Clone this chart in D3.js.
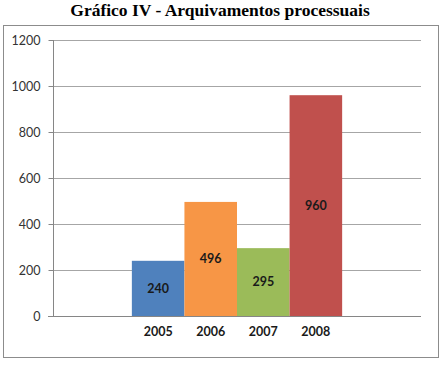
<!DOCTYPE html>
<html><head><meta charset="utf-8">
<script src="https://cdn.jsdelivr.net/npm/d3@7"></script>
<style>body{margin:0;background:#fff}</style>
</head><body>
<svg id="c" width="445" height="368"></svg>
<script>
const years = ["2005","2006","2007","2008"];
const values = [240,496,295,960];
const colors = ["#4F81BD","#F79646","#9BBB59","#C0504D"];
const yTicks = [0,200,400,600,800,1000,1200];
const title = "Gráfico IV - Arquivamentos processuais";

const svg = d3.select("#c");
const L=53,R=421,T=40,B=316;
svg.append("text").attr("x",220).attr("y",16).attr("text-anchor","middle")
  .attr("font-family","Liberation Serif, Times New Roman, serif").attr("font-weight","bold")
  .attr("font-size",17.5).attr("fill","#000").text(title);
svg.append("rect").attr("x",3.5).attr("y",25.5).attr("width",435).attr("height",332)
  .attr("fill","none").attr("stroke","#8c8c8c").attr("stroke-width",1);

const y = d3.scaleLinear().domain([0,1200]).range([B,T]);
const x = d3.scaleBand().domain(years).range([L,R]).paddingInner(0).paddingOuter(1.5);

// gridlines
svg.append("g").selectAll("line").data(yTicks.filter(d=>d>0)).join("line")
  .attr("x1",L).attr("x2",R).attr("y1",d=>Math.round(y(d))+0.5).attr("y2",d=>Math.round(y(d))+0.5)
  .attr("stroke","#a6a6a6");

// y axis
const ya = svg.append("g").attr("transform",`translate(${L+0.5},0)`)
  .call(d3.axisLeft(y).tickValues(yTicks).tickSize(5).tickPadding(8).tickFormat(d3.format("d")));
ya.select(".domain").attr("stroke","#868686").attr("d",`M-0,${T}V${B}`);
ya.selectAll(".tick line").attr("stroke","#868686");
ya.selectAll(".tick").attr("transform",d=>`translate(0,${Math.round(y(d))+0.5})`);
ya.selectAll("text").attr("font-family","Lato, Open Sans, sans-serif").attr("font-size",12.5).attr("fill","#333");

// bars
svg.append("g").selectAll("rect").data(years).join("rect")
  .attr("x",d=>x(d)).attr("width",x.bandwidth())
  .attr("y",(d,i)=>y(values[i])).attr("height",(d,i)=>y(0)-y(values[i]))
  .attr("fill",(d,i)=>colors[i]);

// x axis
const xa = svg.append("g").attr("transform",`translate(0,${B+0.5})`)
  .call(d3.axisBottom(x).tickSize(0).tickPadding(11));
xa.select(".domain").attr("stroke","#868686").attr("d",`M${L-5},0H${R}`);
xa.selectAll("text").attr("font-family","Lato, Open Sans, sans-serif").attr("font-size",12.5)
  .attr("font-weight","bold").attr("fill","#1a1a1a");

// value labels
svg.append("g").selectAll("text").data(years).join("text")
  .attr("x",d=>x(d)+x.bandwidth()/2).attr("y",(d,i)=>y(values[i]/2)).attr("dy","0.35em")
  .attr("text-anchor","middle").attr("font-family","Lato, Open Sans, sans-serif")
  .attr("font-size",12.5).attr("font-weight","bold").attr("fill","#1a1a1a")
  .text((d,i)=>values[i]);
</script>
</body></html>
